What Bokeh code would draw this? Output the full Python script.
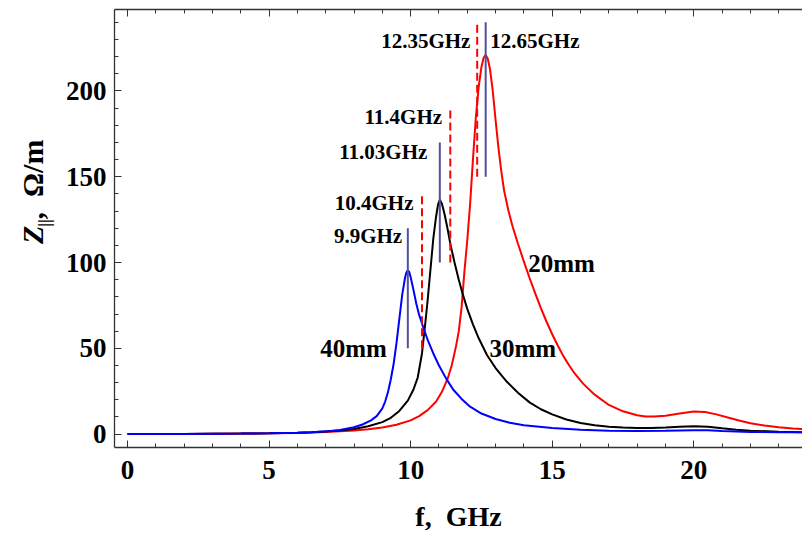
import math
from bokeh.plotting import figure
from bokeh.layouts import row
from bokeh.models import Label, LinearAxis, SingleIntervalTicker, Range1d
from bokeh.core.properties import value
from bokeh.embed import file_html
from bokeh.resources import INLINE

# ---------------- data ----------------
f_40mm = [0, 1, 2, 3, 4, 5, 6, 6.5, 7, 7.5, 8, 8.3, 8.6, 8.8, 9.0, 9.1, 9.2, 9.3, 9.4, 9.5,
          9.6, 9.7, 9.8, 9.85, 9.9, 9.95, 10.0, 10.1, 10.2, 10.3, 10.45, 10.6, 10.8, 11.0,
          11.25, 11.5, 11.8, 12.1, 12.5, 13.0, 13.5, 14.0, 15.0, 16.0, 17.0, 18.0, 19.0,
          19.5, 20.0, 20.5, 21.0, 22.0, 23.0, 24.0]
z_40mm = [0.0, 0.05, 0.1, 0.2, 0.3, 0.5, 0.8, 1.1, 1.6, 2.4, 4.0, 5.6, 8.0, 10.5, 15.0, 19.0,
          24.5, 32.0, 41.0, 53.0, 67.0, 81.0, 91.0, 94.2, 95.5, 94.5, 91.5, 84.0, 76.0, 69.5,
          62.0, 55.0, 47.0, 40.0, 32.5, 26.0, 20.5, 16.0, 12.0, 8.8, 6.6, 5.2, 3.6, 2.6, 2.0,
          1.8, 1.9, 2.1, 2.3, 2.2, 1.8, 1.3, 1.1, 1.0]

f_30mm = [0, 1, 2, 3, 4, 5, 6, 6.5, 7, 7.5, 8, 8.5, 9.0, 9.3, 9.6, 9.9, 10.1, 10.25, 10.4,
          10.5, 10.6, 10.7, 10.8, 10.9, 10.97, 11.03, 11.1, 11.2, 11.3, 11.4, 11.55, 11.7,
          11.85, 12.0, 12.2, 12.4, 12.7, 13.0, 13.4, 13.8, 14.2, 14.6, 15.0, 15.5, 16.0,
          16.5, 17.0, 17.5, 18.0, 18.5, 19.0, 19.5, 20.0, 20.5, 21.0, 21.5, 22.0, 23.0, 24.0]
z_30mm = [0.0, 0.05, 0.1, 0.2, 0.3, 0.5, 0.8, 1.1, 1.5, 2.1, 3.0, 4.6, 7.0, 9.5, 13.5, 19.5,
          26.0, 33.0, 47.0, 62.0, 78.0, 96.0, 114.0, 127.0, 134.0, 136.6, 134.5, 128.0,
          120.0, 111.0, 100.0, 90.0, 81.0, 73.0, 64.0, 56.0, 46.0, 38.5, 30.5, 24.0, 18.5,
          14.5, 11.5, 8.5, 6.5, 5.2, 4.3, 3.8, 3.6, 3.6, 3.9, 4.3, 4.6, 4.3, 3.4, 2.6, 2.0,
          1.4, 1.1]

f_20mm = [0, 1, 2, 3, 4, 5, 6, 6.5, 7, 7.5, 8, 8.5, 9.0, 9.5, 10.0, 10.3, 10.6, 10.9, 11.1,
          11.3, 11.45, 11.6, 11.7, 11.8, 11.9, 12.0, 12.1, 12.2, 12.3, 12.4, 12.5, 12.58,
          12.65, 12.72, 12.8, 12.9, 13.0, 13.1, 13.2, 13.3, 13.45, 13.6, 13.8, 14.0, 14.2,
          14.4, 14.6, 14.8, 15.0, 15.2, 15.4, 15.6, 15.8, 16.1, 16.5, 17.0, 17.5, 18.0,
          18.3, 18.6, 19.0, 19.5, 20.0, 20.4, 20.8, 21.2, 21.6, 22.0, 22.5, 23.0, 23.5, 24.0]
z_20mm = [0.0, 0.05, 0.1, 0.2, 0.3, 0.45, 0.7, 0.9, 1.2, 1.6, 2.1, 2.8, 3.9, 5.5, 8.0, 10.5,
          14.0, 19.0, 24.5, 32.0, 40.0, 51.0, 60.0, 74.0, 95.0, 113.0, 134.0, 160.0, 184.0,
          202.0, 214.0, 219.5, 221.0, 219.0, 213.0, 200.0, 183.0, 167.0, 153.5, 142.0,
          130.5, 121.0, 110.5, 100.5, 91.0, 82.0, 73.5, 65.5, 58.2, 51.5, 45.3, 40.0, 35.2,
          29.3, 23.0, 17.0, 13.3, 11.0, 10.3, 10.2, 10.7, 12.0, 13.2, 12.9, 11.5, 9.7, 7.9,
          6.3, 5.0, 4.0, 3.3, 2.8]

# computed resonance frequencies (solid) and measured ones (dashed)
res_solid_f = [9.9, 11.03, 12.65]
res_solid_lo = [50, 100, 150]
res_solid_hi = [120, 170, 240]
res_dash_f = [10.4, 11.4, 12.35]
res_dash_lo = [50, 100, 150]
res_dash_hi = [140, 190, 240]

freq_labels = ["9.9GHz", "10.4GHz", "11.03GHz", "11.4GHz", "12.35GHz", "12.65GHz"]
gap_labels = ["40mm", "30mm", "20mm"]

NB = "\u00a0"
FONT = "Liberation Serif"
H = 534
LEFT_W = 56

# ---------------- y-axis title panel (mixed italic / subscript text) ----------------
q = figure(width=LEFT_W, height=H, output_backend="svg", toolbar_location=None,
           x_range=Range1d(0, LEFT_W), y_range=Range1d(0, H),
           x_axis_type=None, y_axis_type=None,
           min_border_left=0, min_border_right=0, min_border_top=0, min_border_bottom=0)
q.outline_line_color = None
q.xgrid.visible = False
q.ygrid.visible = False

def ytitle(x, y_px, text, size, style):
    q.text(x=[x], y=[H - y_px], text=[text], angle=math.pi / 2,
           text_align="left", text_baseline="middle",
           text_font=value(FONT), text_font_style=value(style),
           text_font_size=value(size), text_color="black")

ytitle(32, 286, "Z", "30px", "bold italic")
ytitle(44, 265, "||", "17px", "bold")
ytitle(32, 256, "," + NB + NB + "Ω/m", "30px", "bold")

# ---------------- main figure ----------------
p = figure(width=802 - LEFT_W, height=H, output_backend="svg", toolbar_location=None,
           x_range=Range1d(-0.46, 23.84), y_range=Range1d(-7.8, 247.5),
           min_border_left=114 - LEFT_W, min_border_right=0, min_border_top=9,
           min_border_bottom=87, background_fill_color="white",
           border_fill_color="white")
p.outline_line_color = None
p.xgrid.visible = False
p.ygrid.visible = False

AX_COLOR = "#333333"

def style_axis(ax, size="27px"):
    ax.axis_line_color = AX_COLOR
    ax.axis_line_width = 1.3
    ax.major_tick_line_color = AX_COLOR
    ax.minor_tick_line_color = AX_COLOR
    ax.major_tick_in = 7
    ax.major_tick_out = 0
    ax.minor_tick_in = 4
    ax.minor_tick_out = 0
    ax.major_label_text_font = FONT
    ax.major_label_text_font_style = "bold"
    ax.major_label_text_font_size = size
    ax.major_label_text_color = "black"

p.xaxis.ticker = SingleIntervalTicker(interval=5, num_minor_ticks=5)
p.yaxis.ticker = SingleIntervalTicker(interval=50, num_minor_ticks=5)
style_axis(p.xaxis[0])
style_axis(p.yaxis[0])
p.xaxis.major_label_standoff = 13
p.yaxis.major_label_standoff = 8

p.xaxis.axis_label = "f," + NB + NB + "GHz"
p.xaxis.axis_label_text_font = FONT
p.xaxis.axis_label_text_font_style = "bold"
p.xaxis.axis_label_text_font_size = "28px"
p.xaxis.axis_label_text_color = "black"
p.xaxis.axis_label_standoff = 19

top = LinearAxis(ticker=SingleIntervalTicker(interval=5, num_minor_ticks=5))
style_axis(top, size="0px")
top.major_label_standoff = 0
top.major_label_text_color = None
p.add_layout(top, "above")

# ---------------- curves ----------------
p.line(f_20mm, z_20mm, line_color="#ff0000", line_width=2)
p.line(f_30mm, z_30mm, line_color="black", line_width=2)
p.line(f_40mm, z_40mm, line_color="#0000ff", line_width=2)

p.segment(x0=res_dash_f, y0=res_dash_lo, x1=res_dash_f, y1=res_dash_hi,
          line_color="#ff0000", line_width=2, line_dash="8 4")
p.segment(x0=res_solid_f, y0=res_solid_lo, x1=res_solid_f, y1=res_solid_hi,
          line_color="#50509c", line_width=2)

# ---------------- annotations ----------------
def lab(x, y, text, size, align="center"):
    p.add_layout(Label(x=x, y=y, text=text, text_font=FONT, text_font_style="bold",
                       text_font_size=size, text_align=align, text_baseline="middle",
                       text_color="black"))

lab(9.70, 115.5, freq_labels[0], "21px", align="right")
lab(10.10, 134.5, freq_labels[1], "21px", align="right")
lab(10.59, 164.5, freq_labels[2], "21px", align="right")
lab(11.11, 184.8, freq_labels[3], "21px", align="right")
lab(12.11, 229.2, freq_labels[4], "21px", align="right")
lab(12.81, 229.2, freq_labels[5], "21px", align="left")

lab(7.98, 49.8, gap_labels[0], "25px")
lab(13.96, 49.8, gap_labels[1], "25px")
lab(14.15, 99.4, gap_labels[2], "25px", align="left")

layout = row(q, p)
open("out.html", "w").write(file_html(layout, INLINE))
